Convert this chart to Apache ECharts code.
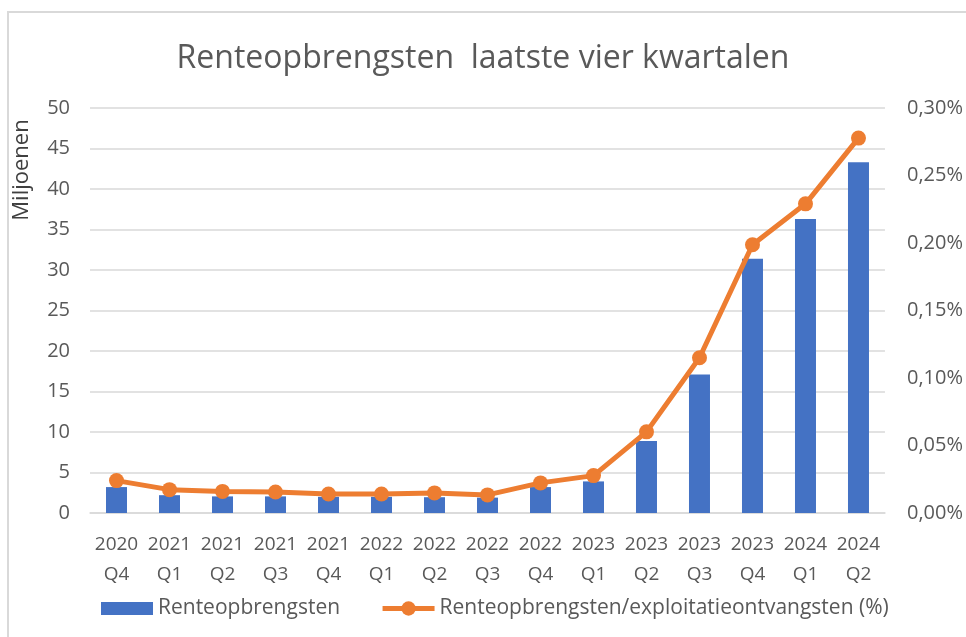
<!DOCTYPE html>
<html>
<head>
<meta charset="utf-8">
<script src="https://cdn.jsdelivr.net/npm/echarts@6/dist/echarts.min.js"></script>
<style>
html,body{margin:0;padding:0;background:#fff;}
#chart{width:966px;height:637px;}
</style>
</head>
<body>
<div id="chart"></div>
<script>
const categories = ['2020 Q4','2021 Q1','2021 Q2','2021 Q3','2021 Q4','2022 Q1','2022 Q2','2022 Q3','2022 Q4','2023 Q1','2023 Q2','2023 Q3','2023 Q4','2024 Q1','2024 Q2'];
const renteopbrengsten = [3.2, 2.2, 2.05, 2.05, 2.0, 2.0, 1.95, 1.9, 3.2, 3.9, 8.9, 17.1, 31.4, 36.3, 43.3];
const ratioPct = [0.024, 0.0173, 0.016, 0.0156, 0.0141, 0.0141, 0.0149, 0.0134, 0.0223, 0.0277, 0.0601, 0.115, 0.1987, 0.229, 0.2777];
const leftTicks = {min: 0, max: 50, interval: 5};
const rightTicks = {min: 0, max: 0.30, interval: 0.05};

const FONT = '"Open Sans", sans-serif';
const GREY = '#595959';
const chart = echarts.init(document.getElementById('chart'), null, {renderer: 'canvas'});
chart.setOption({
  backgroundColor: '#ffffff',
  animation: false,
  title: {
    text: 'Renteopbrengsten  laatste vier kwartalen',
    left: 'center',
    top: 38,
    textStyle: {fontFamily: FONT, fontSize: 32, fontWeight: 'normal', color: GREY}
  },
  graphic: [
    {type: 'rect', shape: {x: 8, y: 12, width: 1000, height: 700}, style: {fill: 'none', stroke: '#d9d9d9', lineWidth: 2}, silent: true},
    {type: 'text', x: 22, y: 170, rotation: Math.PI / 2,
     style: {text: 'Miljoenen', fontFamily: FONT, fontSize: 22, fill: '#404040', textAlign: 'center', textVerticalAlign: 'middle'}}
  ],
  legend: {
    left: 96, top: 593, itemGap: 40, itemWidth: 52, itemHeight: 18, symbolKeepAspect: true,
    textStyle: {fontFamily: FONT, fontSize: 21, color: GREY},
    data: [
      {name: 'Renteopbrengsten', icon: 'path://M0,0h52v13h-52z'},
      {name: 'Renteopbrengsten/exploitatieontvangsten (%)', lineStyle: {width: 5}}
    ]
  },
  grid: {left: 90, right: 81, top: 108, bottom: 124, containLabel: false},
  xAxis: {
    type: 'category',
    data: categories,
    axisTick: {show: false},
    axisLine: {lineStyle: {color: '#d9d9d9', width: 1.5}},
    axisLabel: {
      interval: 0, margin: 17, fontFamily: FONT, fontSize: 19, lineHeight: 30, color: GREY,
      formatter: v => v.replace(' ', '\n')
    }
  },
  yAxis: [
    {
      type: 'value', min: leftTicks.min, max: leftTicks.max, interval: leftTicks.interval,
      axisLine: {show: false}, axisTick: {show: false},
      splitLine: {lineStyle: {color: '#d9d9d9', width: 1.5}},
      axisLabel: {margin: 20, fontFamily: FONT, fontSize: 20, color: GREY}
    },
    {
      type: 'value', min: rightTicks.min, max: rightTicks.max, interval: rightTicks.interval,
      axisLine: {show: false}, axisTick: {show: false}, splitLine: {show: false},
      axisLabel: {margin: 22, fontFamily: FONT, fontSize: 20, color: GREY,
        formatter: v => v.toFixed(2).replace('.', ',') + '%'}
    }
  ],
  series: [
    {
      name: 'Renteopbrengsten', type: 'bar', data: renteopbrengsten,
      barWidth: 21, itemStyle: {color: '#4472C4'}, yAxisIndex: 0
    },
    {
      name: 'Renteopbrengsten/exploitatieontvangsten (%)', type: 'line', data: ratioPct,
      yAxisIndex: 1, symbol: 'circle', symbolSize: 15,
      lineStyle: {color: '#ED7D31', width: 5}, itemStyle: {color: '#ED7D31'}, z: 5
    }
  ]
});
</script>
</body>
</html>
